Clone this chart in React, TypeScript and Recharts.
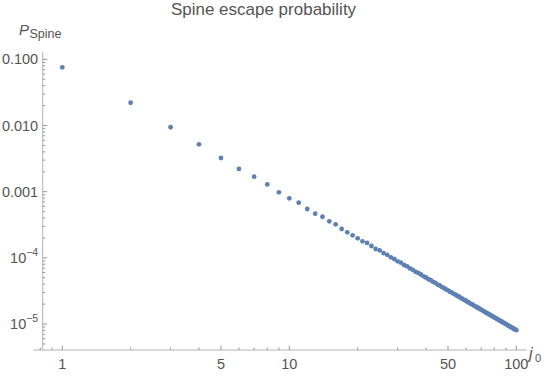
import React from 'react';
import { ScatterChart, Scatter, XAxis, YAxis, ReferenceLine } from 'recharts';

const jValues = [
  1, 2, 3, 4, 5, 6, 7, 8, 9, 10, 11, 12, 13, 14, 15, 16, 17, 18, 19, 20,
  21, 22, 23, 24, 25, 26, 27, 28, 29, 30, 31, 32, 33, 34, 35, 36, 37, 38, 39, 40,
  41, 42, 43, 44, 45, 46, 47, 48, 49, 50, 51, 52, 53, 54, 55, 56, 57, 58, 59, 60,
  61, 62, 63, 64, 65, 66, 67, 68, 69, 70, 71, 72, 73, 74, 75, 76, 77, 78, 79, 80,
  81, 82, 83, 84, 85, 86, 87, 88, 89, 90, 91, 92, 93, 94, 95, 96, 97, 98, 99, 100,
];

const pSpine = [
  0.076, 0.0221, 0.00942, 0.00521, 0.00323, 0.00221, 0.00169, 0.00129, 0.00098, 0.000795,
  0.000682, 0.000548, 0.000465, 0.000418, 0.000357, 0.000321, 0.000273, 0.000243, 0.000219, 0.000197,
  0.000178, 0.000168, 0.000151, 0.000136, 0.00013, 0.000118, 0.000111, 0.000102, 9.6e-5, 8.85e-5,
  8.45e-5, 7.8e-5, 7.45e-5, 6.92e-5, 6.6e-5, 6.15e-5, 5.9e-5, 5.6e-5, 5.25e-5, 5.05e-5,
  4.75e-5, 4.6e-5, 4.33e-5, 4.18e-5, 3.95e-5, 3.82e-5, 3.62e-5, 3.5e-5, 3.33e-5, 3.23e-5,
  3.07e-5, 2.99e-5, 2.86e-5, 2.77e-5, 2.65e-5, 2.58e-5, 2.47e-5, 2.4e-5, 2.3e-5, 2.25e-5,
  2.15e-5, 2.1e-5, 2.02e-5, 1.97e-5, 1.9e-5, 1.85e-5, 1.79e-5, 1.745e-5, 1.69e-5, 1.645e-5,
  1.595e-5, 1.555e-5, 1.51e-5, 1.47e-5, 1.43e-5, 1.395e-5, 1.355e-5, 1.325e-5, 1.29e-5, 1.26e-5,
  1.225e-5, 1.2e-5, 1.165e-5, 1.142e-5, 1.112e-5, 1.09e-5, 1.062e-5, 1.042e-5, 1.014e-5, 9.96e-6,
  9.7e-6, 9.53e-6, 9.29e-6, 9.13e-6, 8.9e-6, 8.75e-6, 8.54e-6, 8.4e-6, 8.2e-6, 8.07e-6,
];

const xMajorTicks = [1, 5, 10, 50, 100];
const xMinorTicks = [0.8, 0.9, 2, 3, 4, 6, 7, 8, 9, 20, 30, 40, 60, 70, 80, 90];
const yMajorTicks = [0.1, 0.01, 0.001, 1e-4, 1e-5];
const yMajorLabels = ['0.100', '0.010', '0.001', '10|−4', '10|−5'];
const yMinorTicks = [
  5e-6, 6e-6, 7e-6, 8e-6, 9e-6,
  2e-5, 3e-5, 4e-5, 5e-5, 6e-5, 7e-5, 8e-5, 9e-5,
  2e-4, 3e-4, 4e-4, 5e-4, 6e-4, 7e-4, 8e-4, 9e-4,
  0.002, 0.003, 0.004, 0.005, 0.006, 0.007, 0.008, 0.009,
  0.02, 0.03, 0.04, 0.05, 0.06, 0.07, 0.08, 0.09,
];

const data = jValues.map((j, i) => ({ j, p: pSpine[i] }));

const FONT = '"Liberation Sans", Arial, sans-serif';
const AXIS_COLOR = '#b3b3b3';
const TICK_COLOR = '#9a9a9a';
const LABEL_COLOR = '#555555';
const POINT_COLOR = '#5E81B5';

const XTick = (props: any) => {
  const { x, y, payload } = props;
  const v = payload.value;
  const major = xMajorTicks.includes(v);
  return (
    <g>
      <line x1={x} x2={x} y1={y} y2={y - (major ? 4.5 : 2.5)} stroke={TICK_COLOR} strokeWidth={1} />
      {major && (
        <text x={x} y={y + 19} textAnchor="middle" fontSize={14.5} fill={LABEL_COLOR} fontFamily={FONT}>
          {String(v)}
        </text>
      )}
    </g>
  );
};

const Y_SHIFT = 9.7;
const YTick = (props: any) => {
  const { x, y, payload } = props;
  const v = payload.value;
  const idx = yMajorTicks.indexOf(v);
  const major = idx >= 0;
  const ax = x + Y_SHIFT;
  let label: any = null;
  if (major) {
    const s = yMajorLabels[idx];
    if (s.includes('|')) {
      const [base, exp] = s.split('|');
      label = (
        <text x={ax - 4.5} y={y + 5} textAnchor="end" fontSize={14.5} fill={LABEL_COLOR} fontFamily={FONT}>
          <tspan>{base}</tspan>
          <tspan dy={-6.5} fontSize={10.5}>{exp}</tspan>
        </text>
      );
    } else {
      label = (
        <text x={ax - 4.5} y={y + 5} textAnchor="end" fontSize={14.5} fill={LABEL_COLOR} fontFamily={FONT}>
          {s}
        </text>
      );
    }
  }
  return (
    <g>
      <line x1={ax} x2={ax + (major ? 4.5 : 2.5)} y1={y} y2={y} stroke={TICK_COLOR} strokeWidth={1} />
      {label}
    </g>
  );
};

const Dot = (props: any) => <circle cx={props.cx} cy={props.cy} r={2.4} fill={POINT_COLOR} />;

export default function App() {
  return (
    <div style={{ position: 'absolute', left: 0, top: 0, width: 554, height: 377, background: '#fff' }}>
      <ScatterChart width={554} height={377} margin={{ top: 52, right: 27.3, bottom: 26, left: 32 }}>
        <XAxis
          dataKey="j"
          type="number"
          scale="log"
          domain={[0.743, 111.1]}
          allowDataOverflow
          ticks={[...xMinorTicks, ...xMajorTicks].sort((a, b) => a - b)}
          interval={0}
          tick={<XTick />}
          tickLine={false}
          tickSize={0}
          tickMargin={0}
          height={1}
          axisLine={{ stroke: AXIS_COLOR }}
        />
        <YAxis
          dataKey="p"
          type="number"
          scale="log"
          domain={[4.045e-6, 0.1294]}
          allowDataOverflow
          ticks={[...yMinorTicks, ...yMajorTicks].sort((a, b) => a - b)}
          interval={0}
          tick={<YTick />}
          tickLine={false}
          tickSize={0}
          tickMargin={0}
          width={1}
          axisLine={false}
        />
        <ReferenceLine x={0.82} stroke={AXIS_COLOR} />
        <Scatter data={data} shape={Dot} isAnimationActive={false} />
      </ScatterChart>
      <svg width={554} height={377} style={{ position: 'absolute', left: 0, top: 0, pointerEvents: 'none' }}>
        <text x={263.5} y={15} textAnchor="middle" fontSize={17} fill={LABEL_COLOR} fontFamily={FONT}>
          Spine escape probability
        </text>
        <text x={19} y={35} fontSize={15} fill={LABEL_COLOR} fontFamily={FONT} fontStyle="italic">P</text>
        <text x={29.5} y={37.5} fontSize={12.5} fill={LABEL_COLOR} fontFamily={FONT}>Spine</text>
        <text x={529} y={359} fontSize={16} fill={LABEL_COLOR} fontFamily={FONT} fontStyle="italic">j</text>
        <text x={535} y={362} fontSize={11} fill={LABEL_COLOR} fontFamily={FONT}>0</text>
      </svg>
    </div>
  );
}
